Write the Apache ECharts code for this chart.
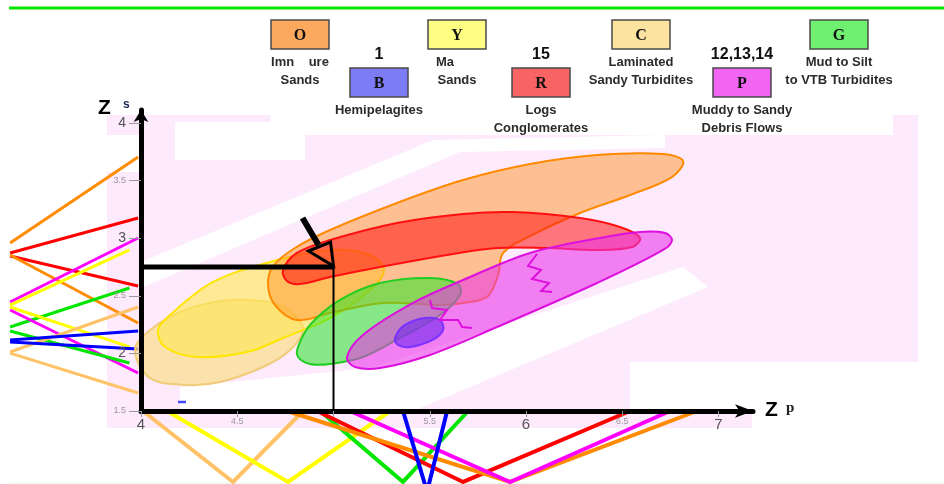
<!DOCTYPE html>
<html>
<head>
<meta charset="utf-8">
<script src="https://cdn.jsdelivr.net/npm/echarts@6/dist/echarts.min.js"></script>
<style>
html,body{margin:0;padding:0;background:#fff;}
#chart{width:944px;height:484px;}
</style>
</head>
<body>
<div id="chart"></div>
<script>
// ---- Facies key ----
const faciesCodes = ['O', 'B', 'Y', 'R', 'C', 'P', 'G'];
const faciesNames = [
  ['Imn    ure', 'Sands'],
  ['Hemipelagites'],
  ['Ma', 'Sands'],
  ['Logs', 'Conglomerates'],
  ['Laminated', 'Sandy Turbidites'],
  ['Muddy to Sandy', 'Debris Flows'],
  ['Mud to Silt', 'to VTB Turbidites']
];
const faciesWells = ['', '1', '', '15', '', '12,13,14', ''];

// ---- Axis ticks ----
const xTicks = [4, 4.5, 5, 5.5, 6, 6.5, 7];
const xTickLabels = [4, 4.5, 5.5, 6, 6.5, 7];
const yTicks = [1.5, 2, 2.5, 3, 3.5, 4];

// ---- Picked point ----
const pickZp = 5.0;
const pickZs = 2.75;

// ---- Facies zones, outline vertices as [Zp, Zs] ----
const zoneC = [[3.969,2.030],[4.047,2.203],[4.203,2.359],[4.384,2.446],[4.566,2.464],[4.738,2.403],[4.842,2.220],[4.774,2.030],[4.634,1.882],[4.410,1.752],[4.239,1.726],[4.047,1.786]];
const zoneY = [[4.088,2.203],[4.151,2.333],[4.374,2.620],[4.670,2.793],[4.982,2.898],[5.190,2.854],[5.262,2.724],[5.190,2.550],[4.982,2.307],[4.738,2.134],[4.551,2.012],[4.291,1.969],[4.125,2.056]];
const zoneO = [[4.660,2.594],[4.686,2.759],[4.800,2.915],[4.982,3.071],[5.330,3.306],[5.673,3.505],[6.021,3.644],[6.369,3.722],[6.712,3.731],[6.816,3.670],[6.758,3.531],[6.540,3.375],[6.281,3.219],[6.021,3.019],[5.881,2.872],[5.855,2.681],[5.803,2.498],[5.709,2.446],[5.553,2.420],[5.257,2.438],[4.982,2.351],[4.810,2.290],[4.696,2.420]];
const zoneR = [[4.738,2.724],[4.810,2.872],[4.982,2.984],[5.330,3.132],[5.673,3.210],[5.932,3.227],[6.281,3.175],[6.488,3.097],[6.592,3.002],[6.551,2.924],[6.369,2.898],[6.109,2.915],[5.849,2.915],[5.590,2.854],[5.242,2.750],[4.982,2.663],[4.826,2.602],[4.758,2.628]];
const zoneG = [[4.816,2.056],[4.878,2.247],[5.034,2.464],[5.242,2.611],[5.501,2.655],[5.647,2.602],[5.657,2.507],[5.553,2.333],[5.345,2.134],[5.153,1.969],[4.982,1.908],[4.878,1.908],[4.816,1.969]];
const zoneP = [[5.070,1.969],[5.153,2.160],[5.413,2.438],[5.673,2.637],[6.021,2.872],[6.384,3.002],[6.592,3.054],[6.722,3.045],[6.758,2.984],[6.712,2.898],[6.369,2.611],[5.849,2.229],[5.501,1.986],[5.242,1.873],[5.112,1.882]];
const zoneB = [[5.319,2.134],[5.371,2.247],[5.475,2.307],[5.553,2.290],[5.569,2.203],[5.512,2.116],[5.397,2.056],[5.335,2.073]];

// Sub-facies boundaries inside the debris-flow zone
const boundaryP1 = [[6.057,2.863],[6.010,2.759],[6.078,2.724],[6.031,2.646],[6.119,2.611],[6.078,2.542],[6.135,2.533]];
const boundaryP2 = [[5.501,2.464],[5.512,2.394],[5.590,2.377],[5.553,2.290],[5.647,2.290],[5.668,2.229],[5.719,2.220]];

// Isolated hemipelagite sample
const strayB = [[4.213, 1.578]];

// ---- Well traces entering from the left and from below ----
const tracesLeft = [
  ['O', [[3.32,2.958],[3.985,3.705]]],
  ['R', [[3.32,2.871],[3.985,3.175]]],
  ['R', [[3.32,2.845],[3.985,2.585]]],
  ['O', [[3.32,2.854],[3.985,2.264]]],
  ['P', [[3.32,2.446],[3.985,3.002]]],
  ['Y', [[3.32,2.420],[3.940,2.898]]],
  ['G', [[3.32,2.229],[3.940,2.568]]],
  ['Y', [[3.32,2.403],[3.940,2.056]]],
  ['P', [[3.32,2.377],[3.985,1.830]]],
  ['G', [[3.32,2.194],[3.940,1.917]]],
  ['C', [[3.32,2.012],[3.985,2.403]]],
  ['C', [[3.32,2.003],[3.985,1.656]]],
  ['B', [[3.32,2.116],[3.985,2.194]]],
  ['B', [[3.32,2.099],[3.985,2.038]]]
];
const tracesBelow = [
  ['C', [[4.010,1.5],[4.478,0.884],[4.842,1.5]]],
  ['Y', [[4.135,1.5],[4.764,0.884],[5.294,1.5]]],
  ['G', [[4.930,1.5],[5.361,0.884],[5.699,1.5]]],
  ['R', [[4.914,1.5],[5.673,0.884],[6.540,1.5]]],
  ['O', [[4.758,1.5],[5.917,0.884],[6.888,1.5]]],
  ['P', [[5.086,1.5],[5.917,0.884],[6.748,1.5]]],
  ['B', [[5.361,1.5],[5.486,0.800],[5.590,1.5]]]
];

// ---- Panel backdrop (pink sheet with white gaps), in axis units ----
const pinkPanels = [
  [3.823, 8.036, 1.925, 3.896],
  [3.823, 4.673, 3.896, 4.069],
  [7.906, 8.036, 3.896, 4.069],
  [3.823, 6.540, 1.352, 1.925],
  [6.540, 7.174, 1.352, 1.500]
];
const whiteGaps = [
  [[4.177,3.679],[4.852,3.679],[4.852,4.009],[4.177,4.009]],
  [[3.823,3.575],[4.000,3.575],[4.000,3.896],[3.823,3.896]],
  [[4.000,2.793],[5.517,3.852],[6.722,3.896],[6.722,3.783],[5.657,3.748],[4.000,2.568]],
  [[4.203,1.708],[5.190,1.873],[6.816,2.750],[6.945,2.576],[5.413,1.500],[4.203,1.500]]
];

// ---------------- styling ----------------
const keyFill = { O:'#fca95f', B:'#7c7cf6', Y:'#fefe82', R:'#f86464', C:'#fde3a0', P:'#f264f2', G:'#70f070' };
const traceColor = { O:'#ff8c00', R:'#ff0000', P:'#ff00ff', Y:'#ffff00', G:'#00e600', B:'#0000ff', C:'#ffc266' };
const zoneStyle = {
  C: { fill:'rgba(250,222,140,0.72)', stroke:'#f0cc78' },
  Y: { fill:'rgba(255,232,80,0.60)',  stroke:'#ffe600' },
  O: { fill:'rgba(255,150,40,0.50)',  stroke:'#ff8a00' },
  R: { fill:'rgba(255,20,20,0.55)',   stroke:'#ff1010' },
  G: { fill:'rgba(40,230,40,0.55)',   stroke:'#22cc22' },
  P: { fill:'rgba(235,50,235,0.58)',  stroke:'#dd10dd' },
  B: { fill:'rgba(110,40,240,0.60)',  stroke:'#7a30ff' }
};
const SANS = '"Liberation Sans", Arial, sans-serif';
const SERIF = '"Liberation Serif", "Times New Roman", serif';

// key layout: box top-left corners
const keyBoxes = [[271,20],[350,68],[428,20],[512,68],[612,20],[713,68],[810,20]];
const keyFirstLineShift = [0, 0, -12, 0, 0, 0, 0];
const BOX_W = 58, BOX_H = 29;

const zones = [
  { code:'C', pts:zoneC }, { code:'Y', pts:zoneY }, { code:'O', pts:zoneO },
  { code:'R', pts:zoneR }, { code:'G', pts:zoneG }, { code:'P', pts:zoneP },
  { code:'B', pts:zoneB }
];
const rectPts = r => [[r[0], r[2]], [r[1], r[2]], [r[1], r[3]], [r[0], r[3]]];
const backdrop = pinkPanels.map(r => ({ pts: rectPts(r), fill: '#fdeafd' }))
  .concat(whiteGaps.map(p => ({ pts: p, fill: '#ffffff' })));
const traces = tracesLeft.map(t => ({ code: t[0], pts: t[1], w: 3 }))
  .concat(tracesBelow.map(t => ({ code: t[0], pts: t[1], w: 4 })));
const boundaries = [boundaryP1, boundaryP2];

function txt(x, y, text, font, fill, align, vAlign) {
  return {
    type: 'text', x: x, y: y, silent: true,
    style: { text: text, font: font, fill: fill || '#111',
      align: align || 'center', verticalAlign: vAlign || 'middle',
      textAlign: align || 'center', textVerticalAlign: vAlign || 'middle' }
  };
}

// key graphics
const graphics = [
  { type:'line', silent:true, shape:{ x1:9, y1:8, x2:944, y2:8 }, style:{ stroke:'#00e600', lineWidth:3 } },
  { type:'line', silent:true, shape:{ x1:9, y1:483, x2:944, y2:483 }, style:{ stroke:'#e2f8e2', lineWidth:1 } }
];
faciesCodes.forEach((code, i) => {
  const [bx, by] = keyBoxes[i];
  const cx = bx + BOX_W / 2;
  graphics.push({ type:'rect', silent:true, shape:{ x:bx, y:by, width:BOX_W, height:BOX_H },
    style:{ fill:keyFill[code], stroke:'#4a4a4a', lineWidth:1.5 } });
  graphics.push(txt(cx, by + BOX_H / 2 + 1, code, 'bold 16px ' + SERIF, '#111'));
  if (faciesWells[i]) graphics.push(txt(cx, by - 13, faciesWells[i], 'bold 16px ' + SANS, '#111'));
  faciesNames[i].forEach((line, k) => {
    graphics.push(txt(cx + (k === 0 ? keyFirstLineShift[i] : 0), by + 42 + 18 * k, line, 'bold 13px ' + SANS, '#2b2b2b'));
  });
});
// axis titles
graphics.push(txt(98, 108, 'Z', 'bold 21px ' + SANS, '#000', 'left'));
graphics.push(txt(123, 105, 's', 'bold 12px ' + SANS, '#1c2550', 'left'));
graphics.push(txt(765, 410, 'Z', 'bold 21px ' + SANS, '#000', 'left'));
graphics.push(txt(786, 408, 'p', 'bold 15px ' + SERIF, '#222', 'left'));
// picked point readout
graphics.push(txt(215, 205, 'Z', 'bold 22px ' + SANS, '#111', 'left'));
graphics.push(txt(231, 199, 'p', 'bold 12px ' + SANS, '#111', 'left'));
graphics.push(txt(240, 206, '= ' + pickZp.toFixed(0) + '.', 'bold 21px ' + SANS, '#111', 'left'));
graphics.push(txt(215, 227, 'Z', 'bold 22px ' + SANS, '#111', 'left'));
graphics.push(txt(230, 223, 's', 'bold 12px ' + SANS, '#111', 'left'));
graphics.push(txt(240, 228, '= 2. 7 5', 'bold 21px ' + SANS, '#111', 'left'));

const tickLabel = v => (Number.isInteger(v) ? '{a|' + v + '}' : '{b|' + v + '}');

const option = {
  animation: false,
  backgroundColor: '#ffffff',
  grid: { left: 141, top: 110, width: 612, height: 301, containLabel: false },
  xAxis: {
    type: 'value', min: 4, max: 7.179, z: 8,
    splitLine: { show: false },
    axisLine: { show: true, onZero: false, lineStyle: { color: '#000', width: 5 },
      symbol: ['none', 'arrow'], symbolSize: [10, 18] },
    axisTick: { show: true, customValues: xTicks, length: 6, lineStyle: { color: '#9a9a9a', width: 1 } },
    axisLabel: { customValues: xTickLabels, margin: 6, formatter: tickLabel,
      rich: { a: { fontSize: 15, color: '#555', fontFamily: SANS },
              b: { fontSize: 9, color: '#999', fontFamily: SANS } } }
  },
  yAxis: {
    type: 'value', min: 1.5, max: 4.113, z: 8,
    splitLine: { show: false },
    axisLine: { show: true, onZero: false, lineStyle: { color: '#000', width: 5 },
      symbol: ['none', 'arrow'], symbolSize: [11, 12] },
    axisTick: { show: true, customValues: yTicks, length: 12, lineStyle: { color: '#9a9a9a', width: 1 } },
    axisLabel: { customValues: yTicks, margin: 15, formatter: tickLabel,
      rich: { a: { fontSize: 14, color: '#555', fontFamily: SANS },
              b: { fontSize: 9, color: '#999', fontFamily: SANS } } }
  },
  graphic: { elements: graphics },
  series: [
    {
      type: 'custom', name: 'backdrop', z: 1, silent: true, clip: false,
      data: backdrop.map(b => b.pts[0]),
      renderItem: (params, api) => {
        const b = backdrop[params.dataIndex];
        return { type: 'polygon', shape: { points: b.pts.map(p => api.coord(p)) }, style: { fill: b.fill } };
      }
    },
    {
      type: 'custom', name: 'traces', z: 2, silent: true, clip: false,
      data: traces.map(t => t.pts[0]),
      renderItem: (params, api) => {
        const t = traces[params.dataIndex];
        return { type: 'polyline', shape: { points: t.pts.map(p => api.coord(p)) },
          style: { stroke: traceColor[t.code], lineWidth: t.w, fill: 'none' } };
      }
    },
    {
      type: 'custom', name: 'zones', z: 3, silent: true, clip: false,
      data: zones.map(z => z.pts[0]),
      renderItem: (params, api) => {
        const z = zones[params.dataIndex];
        const s = zoneStyle[z.code];
        return { type: 'polygon', shape: { points: z.pts.map(p => api.coord(p)), smooth: 0.35 },
          style: { fill: s.fill, stroke: s.stroke, lineWidth: 2 } };
      }
    },
    {
      type: 'custom', name: 'boundaries', z: 4, silent: true, clip: false,
      data: boundaries.map(b => b[0]),
      renderItem: (params, api) => ({
        type: 'polyline', shape: { points: boundaries[params.dataIndex].map(p => api.coord(p)) },
        style: { stroke: '#dd10dd', lineWidth: 2, fill: 'none' }
      })
    },
    {
      type: 'scatter', name: 'stray', z: 4, silent: true, data: strayB,
      symbol: 'rect', symbolSize: [8, 2.5], itemStyle: { color: '#1a1aff' }
    },
    {
      type: 'line', name: 'pickH', z: 5, silent: true, symbol: 'none', clip: false,
      data: [[4, pickZs], [pickZp, pickZs]], lineStyle: { color: '#000', width: 5 }
    },
    {
      type: 'line', name: 'pickV', z: 5, silent: true, symbol: 'none', clip: false,
      data: [[pickZp, pickZs], [pickZp, 1.5]], lineStyle: { color: '#000', width: 2 }
    },
    {
      type: 'custom', name: 'pointer', z: 6, silent: true, clip: false,
      data: [[pickZp, pickZs]],
      renderItem: (params, api) => {
        const p = api.coord([pickZp, pickZs]);
        return { type: 'group', children: [
          { type: 'line', shape: { x1: p[0] - 31, y1: p[1] - 49, x2: p[0] - 15, y2: p[1] - 22 },
            style: { stroke: '#000', lineWidth: 6 } },
          { type: 'polygon', shape: { points: [[p[0] - 25, p[1] - 16], [p[0] - 3, p[1] - 25], [p[0], p[1] - 1]] },
            style: { fill: 'none', stroke: '#000', lineWidth: 3, lineJoin: 'miter' } }
        ] };
      }
    }
  ]
};

const chart = echarts.init(document.getElementById('chart'), null, { renderer: 'canvas' });
chart.setOption(option);
</script>
</body>
</html>
